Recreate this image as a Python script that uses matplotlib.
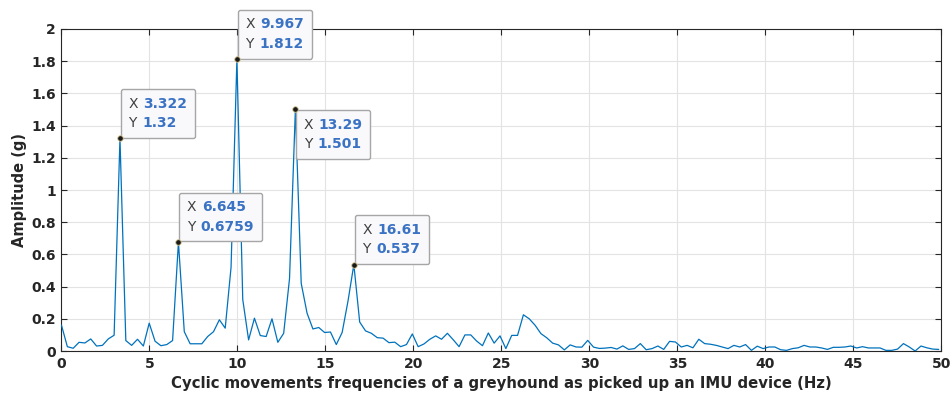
import numpy as np
import matplotlib
matplotlib.use("Agg")
import matplotlib.pyplot as plt
from matplotlib.offsetbox import TextArea, HPacker, VPacker, AnnotationBbox

matplotlib.rcParams.update({"font.size": 10, "font.family": "DejaVu Sans"})

# FFT bin spacing (Hz) and amplitude spectrum
df = 0.33223
amp = [
    0.16, 0.027, 0.017, 0.054, 0.05, 0.075, 0.031, 0.035, 0.075, 0.098,
    1.32, 0.065, 0.035, 0.073, 0.031, 0.173, 0.061, 0.033, 0.04, 0.065,
    0.6759, 0.12, 0.045, 0.045, 0.045, 0.09, 0.12, 0.194, 0.142, 0.52,
    1.812, 0.32, 0.069, 0.204, 0.096, 0.09, 0.2, 0.054, 0.11, 0.45,
    1.501, 0.42, 0.235, 0.137, 0.146, 0.115, 0.118, 0.04, 0.115, 0.31,
    0.537, 0.18, 0.125, 0.11, 0.083, 0.08, 0.052, 0.055, 0.027, 0.04,
    0.106, 0.027, 0.044, 0.073, 0.094, 0.073, 0.11, 0.07, 0.027, 0.1,
    0.1, 0.062, 0.033, 0.112, 0.049, 0.094, 0.015, 0.097, 0.097, 0.225,
    0.2, 0.16, 0.108, 0.082, 0.049, 0.038, 0.007, 0.038, 0.025, 0.024,
    0.066, 0.024, 0.016, 0.018, 0.022, 0.012, 0.032, 0.01, 0.015, 0.046,
    0.008, 0.015, 0.031, 0.01, 0.06, 0.056, 0.025, 0.035, 0.02, 0.073,
    0.046, 0.042, 0.035, 0.025, 0.015, 0.035, 0.025, 0.04, 0.004, 0.03,
    0.015, 0.025, 0.025, 0.008, 0.004, 0.015, 0.02, 0.035, 0.025, 0.025,
    0.019, 0.01, 0.023, 0.023, 0.025, 0.031, 0.019, 0.027, 0.019, 0.019,
    0.019, 0.004, 0.004, 0.012, 0.046, 0.025, 0.0, 0.031, 0.02, 0.012, 0.01,
]
freq = np.arange(len(amp)) * df

# data tips: bin index, x label, y label, which side of the point the box sits
tip_bins = [10, 20, 30, 40, 50]
tip_x = ["3.322", "6.645", "9.967", "13.29", "16.61"]
tip_y = ["1.32", "0.6759", "1.812", "1.501", "0.537"]
tip_up = [True, True, True, False, True]

axcol = "#262626"
fig = plt.figure(figsize=(9.52, 3.96), dpi=100)
ax = fig.add_axes([0.0646, 0.1136, 0.9243, 0.8132])

ax.plot(freq, amp, color="#0072BD", lw=0.9, zorder=3)

ax.set_xlim(0, 50)
ax.set_ylim(0, 2)
ax.set_xticks(np.arange(0, 51, 5))
ax.set_yticks(np.arange(0, 2.01, 0.2))
ax.set_yticklabels(["0", "0.2", "0.4", "0.6", "0.8", "1", "1.2", "1.4", "1.6", "1.8", "2"])
ax.grid(True, color="#e3e3e3", lw=0.8)
ax.set_axisbelow(True)
ax.tick_params(direction="in", length=4, width=0.8, colors=axcol, top=True, right=True,
               labelsize=10, pad=4)
for lab in ax.get_xticklabels() + ax.get_yticklabels():
    lab.set_fontweight("bold")
for s in ax.spines.values():
    s.set_color(axcol)
    s.set_linewidth(0.8)

ax.set_xlabel("Cyclic movements frequencies of a greyhound as picked up an IMU device (Hz)",
              fontsize=10.7, fontweight="bold", color=axcol, labelpad=4)
ax.set_ylabel("Amplitude (g)", fontsize=10.5, fontweight="bold", color=axcol, labelpad=3)

pad = 0.55
gap = pad * 10 + 0.5  # points between the data point and the frame corner
for b, xs, ys, up in zip(tip_bins, tip_x, tip_y, tip_up):
    px, py = freq[b], amp[b]
    ax.plot(px, py, "o", ms=4, mfc="#1a1a1a", mec="#d8c890", mew=0.6, zorder=6)
    r1 = HPacker(children=[TextArea("X", textprops=dict(color="#404040", fontsize=10)),
                           TextArea(xs, textprops=dict(color="#3a72c4", fontsize=10,
                                                       fontweight="bold"))],
                 sep=4, align="baseline")
    r2 = HPacker(children=[TextArea("Y", textprops=dict(color="#404040", fontsize=10)),
                           TextArea(ys, textprops=dict(color="#3a72c4", fontsize=10,
                                                       fontweight="bold"))],
                 sep=4, align="baseline")
    box = VPacker(children=[r1, r2], sep=4, align="left")
    off = (gap, gap) if up else (gap, -gap)
    al = (0, 0) if up else (0, 1)
    ab = AnnotationBbox(box, (px, py), xybox=off, boxcoords="offset points",
                        box_alignment=al, pad=pad, frameon=True, zorder=5,
                        annotation_clip=False,
                        bboxprops=dict(boxstyle=f"round,pad={pad},rounding_size=0.15",
                                       fc="#f9f9fb", ec="#a6a6a6", lw=1.0))
    ax.add_artist(ab)

fig.savefig("out.png", dpi=100)
